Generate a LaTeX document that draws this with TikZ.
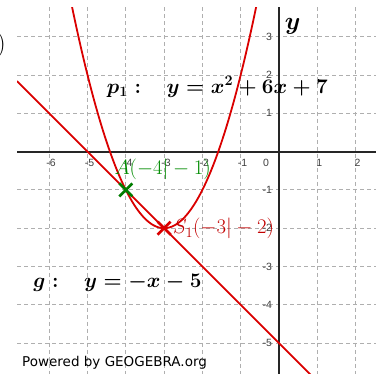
\documentclass[tikz,border=0pt]{standalone}
\usepackage{fontspec}
\newfontfamily\tickfont{Liberation Sans}
\newfontfamily\ggbfont{DejaVu Sans}
\definecolor{ggbred}{RGB}{218,0,0}
\definecolor{ggbdarkred}{RGB}{195,0,0}
\definecolor{ggbgreen}{RGB}{0,125,0}
\definecolor{ggbtext}{RGB}{0,140,0}
\definecolor{gridgray}{RGB}{175,175,175}
\tikzset{
  gridline/.style={gridgray, line width=0.9pt, dash pattern=on 4pt off 3pt},
  axisline/.style={black!85, line width=2pt},
  curve/.style={ggbred, line width=1.8pt},
  crossline/.style={line width=2.6pt},
  ticklab/.style={font=\tickfont\fontsize{10.5}{12}\selectfont, text=black!75, inner sep=0pt},
  bigmath/.style={font=\fontsize{21}{25}\selectfont\boldmath, inner sep=0pt, anchor=base west},
  ptlabel/.style={font=\fontsize{20}{24}\selectfont, inner sep=0pt, anchor=base west}
}
\begin{document}
\begin{tikzpicture}[x=38.3pt,y=38.3pt]
\fill[white] (-7.285,-5.807) rectangle (2.533,3.958);
\useasboundingbox (-7.285,-5.807) rectangle (2.533,3.958);
\begin{scope}
\clip (-7.285,-5.807) rectangle (2.533,3.958);
\node[font=\fontsize{25}{30}\selectfont, inner sep=0pt, anchor=east] (bpar) at (-7.128,2.78) {)};
\end{scope}
% grid
\begin{scope}
\clip (-6.84,-5.807) rectangle (2.533,3.775);
\foreach \i in {-6,...,2} \draw[gridline] (\i,3.775) -- (\i,-5.807);
\foreach \j in {-5,...,3} \draw[gridline] (-6.84,\j) -- (2.533,\j);
\end{scope}
% axes
\coordinate (xl) at (-6.84,0);
\coordinate (xr) at (2.533,0);
\coordinate (yt) at (0,3.775);
\coordinate (yb) at (0,-5.807);
\draw[axisline] (xl) -- (xr);
\draw[axisline] (yt) -- (yb);
% tick labels
\foreach \i in {-6,-5,-4,-3,-2,-1,1,2}
  \node[ticklab] (tx\i) at (\i+0.05,-0.30) {\i};
\node[ticklab] (t0) at (-0.34,-0.30) {0};
\foreach \j in {-5,-4,-3,-2,-1,1,2,3}
  \node[ticklab, anchor=east] (ty\j) at (-0.18,\j) {\j};
% curves
\begin{scope}
\clip (-6.84,-5.807) rectangle (2.533,3.775);
\draw[curve, domain=-5.6:-0.4, samples=200, smooth] plot (\x,{\x*\x+6*\x+7});
\coordinate (g1) at (-6.84,1.84);
\coordinate (g2) at (2.533,-7.533);
\draw[curve] (g1) -- (g2);
\end{scope}
% points
\coordinate (A) at (-4,-1);
\coordinate (S) at (-3,-2);
\draw[crossline, ggbgreen] ([shift={(-0.17,-0.17)}]A) -- ([shift={(0.17,0.17)}]A);
\draw[crossline, ggbgreen] ([shift={(-0.17,0.17)}]A) -- ([shift={(0.17,-0.17)}]A);
\draw[crossline, ggbred] ([shift={(-0.17,-0.17)}]S) -- ([shift={(0.17,0.17)}]S);
\draw[crossline, ggbred] ([shift={(-0.17,0.17)}]S) -- ([shift={(0.17,-0.17)}]S);
% labels
\node[ptlabel, text=ggbtext] (Alab) at (-4.30,-0.61) {$A(-4|-1)$};
\node[ptlabel, text=ggbdarkred] (Slab) at (-2.77,-2.15) {$S_1(-3|-2)$};
\node[bigmath] (p1) at (-4.50,1.52) {$p_1:\hspace{0.9em} y=x^2+6x+7$};
\node[bigmath] (geq) at (-6.42,-3.56) {$g:\hspace{0.9em} y=-x-5$};
\node[font=\fontsize{24}{28}\selectfont\boldmath, inner sep=0pt] (ylab) at (0.36,3.28) {$y$};
\node[font=\ggbfont\fontsize{13.5}{16}\selectfont, inner sep=0pt, anchor=base west] (pow) at (-6.71,-5.62) {Powered by GEOGEBRA.org};
\end{tikzpicture}
\end{document}
